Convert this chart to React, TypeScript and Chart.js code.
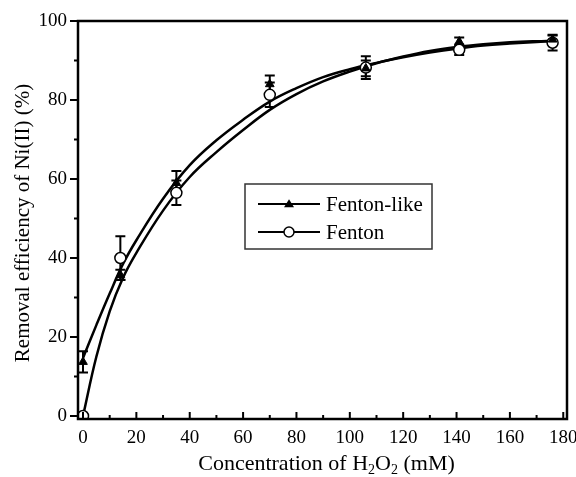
import React, { useEffect, useRef } from 'react';
import { Chart, registerables } from 'chart.js';

Chart.register(...registerables);

// H2O2 doses (mM) at which removal was measured
const doses = [0, 14, 35, 70, 106, 141, 176];

// Measured Ni(II) removal (%) with standard deviations
const fentonLike = [13.7, 35.7, 59, 84, 88, 94.8, 95.3];
const fentonLikeErr = [2.7, 1.3, 3, 2.2, 2, 1, 1];
const fenton = [0, 40, 56.5, 81.3, 88.2, 92.7, 94.5];
const fentonErr = [0, 5.5, 3.1, 3.1, 2.9, 1.3, 2];

// Fitted removal curves
const fitDoses = [0, 5, 10, 15, 20, 30, 40, 50, 60, 70, 80, 90, 100, 110, 120, 130, 140, 150, 160, 170, 176];
const fentonLikeFit = [14.7, 23, 31, 38.5, 44.5, 55, 63.5, 69.8, 75, 79.6, 83, 85.8, 87.8, 89.4, 90.8, 92, 93, 93.8, 94.3, 94.7, 94.9];
const fentonFit = [0, 15, 26.5, 35, 41.3, 52, 60.5, 66.8, 72.4, 77.5, 81.5, 84.7, 87.2, 89.3, 91, 92.4, 93.4, 94.1, 94.6, 94.9, 95];

// Axis ticks
const xMajor = [0, 20, 40, 60, 80, 100, 120, 140, 160, 180];
const xMinor = [10, 30, 50, 70, 90, 110, 130, 150, 170];
const yMajor = [0, 20, 40, 60, 80, 100];
const yMinor = [10, 30, 50, 70, 90];

const legendLabels = ['Fenton-like', 'Fenton'];

const SERIF = "'Liberation Serif', 'Times New Roman', serif";

const toPoints = (xs: number[], ys: number[]) => xs.map((x, i) => ({ x, y: ys[i] }));

function drawTriangle(ctx: CanvasRenderingContext2D, x: number, y: number, r: number) {
  const h = r * 1.6;
  ctx.beginPath();
  ctx.moveTo(x, y - h * 0.6);
  ctx.lineTo(x + r, y + h * 0.4);
  ctx.lineTo(x - r, y + h * 0.4);
  ctx.closePath();
  ctx.fillStyle = '#000';
  ctx.fill();
}

function drawCircle(ctx: CanvasRenderingContext2D, x: number, y: number, r: number) {
  ctx.beginPath();
  ctx.arc(x, y, r, 0, Math.PI * 2);
  ctx.fillStyle = '#fff';
  ctx.fill();
  ctx.lineWidth = 1.5;
  ctx.strokeStyle = '#000';
  ctx.stroke();
}

const errorBarPlugin = {
  id: 'errorBars',
  beforeDatasetsDraw(chart: any) {
    const { ctx, scales } = chart;
    const xs = scales.x;
    const ys = scales.y;
    const series = [
      { vals: fentonLike, errs: fentonLikeErr },
      { vals: fenton, errs: fentonErr },
    ];
    ctx.save();
    ctx.strokeStyle = '#000';
    ctx.lineWidth = 2;
    series.forEach(({ vals, errs }) => {
      doses.forEach((d, i) => {
        if (!errs[i]) return;
        const px = xs.getPixelForValue(d);
        const top = ys.getPixelForValue(vals[i] + errs[i]);
        const bot = ys.getPixelForValue(vals[i] - errs[i]);
        ctx.beginPath();
        ctx.moveTo(px, top);
        ctx.lineTo(px, bot);
        ctx.moveTo(px - 5, top);
        ctx.lineTo(px + 5, top);
        ctx.moveTo(px - 5, bot);
        ctx.lineTo(px + 5, bot);
        ctx.stroke();
      });
    });
    ctx.restore();
  },
};

const framePlugin = {
  id: 'frame',
  afterDraw(chart: any) {
    const { ctx, chartArea, scales } = chart;
    const { left, right, top, bottom } = chartArea;
    const xs = scales.x;
    const ys = scales.y;
    ctx.save();

    // frame
    ctx.strokeStyle = '#000';
    ctx.lineWidth = 2.5;
    ctx.strokeRect(left, top, right - left, bottom - top);

    // y ticks point outward, x ticks point inward
    ctx.lineWidth = 2;
    ctx.beginPath();
    yMajor.forEach((v) => {
      const py = ys.getPixelForValue(v);
      ctx.moveTo(left - 8, py);
      ctx.lineTo(left, py);
    });
    yMinor.forEach((v) => {
      const py = ys.getPixelForValue(v);
      ctx.moveTo(left - 4, py);
      ctx.lineTo(left, py);
    });
    xMajor.forEach((v) => {
      const px = xs.getPixelForValue(v);
      ctx.moveTo(px, bottom);
      ctx.lineTo(px, bottom - 7);
    });
    xMinor.forEach((v) => {
      const px = xs.getPixelForValue(v);
      ctx.moveTo(px, bottom);
      ctx.lineTo(px, bottom - 4);
    });
    ctx.stroke();

    ctx.fillStyle = '#000';

    // x-axis title with subscripts
    const parts = [
      { t: 'Concentration of H', sub: false },
      { t: '2', sub: true },
      { t: 'O', sub: false },
      { t: '2', sub: true },
      { t: ' (mM)', sub: false },
    ];
    const xTitleFont = `22px ${SERIF}`;
    const subFont = `14px ${SERIF}`;
    let total = 0;
    parts.forEach((p) => {
      ctx.font = p.sub ? subFont : xTitleFont;
      total += ctx.measureText(p.t).width;
    });
    let cx = (left + right) / 2 + 4 - total / 2;
    const base = 470;
    ctx.textAlign = 'left';
    ctx.textBaseline = 'alphabetic';
    parts.forEach((p) => {
      ctx.font = p.sub ? subFont : xTitleFont;
      ctx.fillText(p.t, cx, p.sub ? base + 4 : base);
      cx += ctx.measureText(p.t).width;
    });

    // y-axis title
    const mainFont = `21px ${SERIF}`;
    ctx.save();
    ctx.translate(23, (top + bottom) / 2 + 3);
    ctx.rotate(-Math.PI / 2);
    ctx.font = mainFont;
    ctx.textAlign = 'center';
    ctx.textBaseline = 'middle';
    ctx.fillText('Removal efficiency of Ni(II) (%)', 0, 0);
    ctx.restore();

    // legend
    const bx = 245;
    const by = 184;
    const bw = 187;
    const bh = 65;
    ctx.fillStyle = '#fff';
    ctx.fillRect(bx, by, bw, bh);
    ctx.strokeStyle = '#333';
    ctx.lineWidth = 1.5;
    ctx.strokeRect(bx, by, bw, bh);
    const rows = [by + 20, by + 48];
    rows.forEach((ry, i) => {
      ctx.strokeStyle = '#000';
      ctx.lineWidth = 2;
      ctx.beginPath();
      ctx.moveTo(bx + 13, ry);
      ctx.lineTo(bx + 75, ry);
      ctx.stroke();
      if (i === 0) drawTriangle(ctx, bx + 44, ry, 5);
      else drawCircle(ctx, bx + 44, ry, 5);
      ctx.fillStyle = '#000';
      ctx.font = mainFont;
      ctx.textAlign = 'left';
      ctx.textBaseline = 'middle';
      ctx.fillText(legendLabels[i], bx + 81, ry + 1);
    });

    ctx.restore();
  },
};

export default function App() {
  const canvasRef = useRef<HTMLCanvasElement | null>(null);

  useEffect(() => {
    document.body.style.margin = '0';
    const canvas = canvasRef.current;
    if (!canvas) return;

    const chart = new Chart(canvas, {
      type: 'scatter',
      data: {
        datasets: [
          {
            label: legendLabels[0],
            data: toPoints(doses, fentonLike),
            pointStyle: 'triangle',
            pointRadius: 5,
            backgroundColor: '#000',
            borderColor: '#000',
            borderWidth: 1,
            showLine: false,
            order: 0,
          },
          {
            label: legendLabels[1],
            data: toPoints(doses, fenton),
            pointStyle: 'circle',
            pointRadius: 5.5,
            backgroundColor: '#fff',
            borderColor: '#000',
            borderWidth: 1.5,
            showLine: false,
            order: 0,
          },
          {
            label: 'Fenton-like fit',
            data: toPoints(fitDoses, fentonLikeFit),
            showLine: true,
            pointRadius: 0,
            borderColor: '#000',
            borderWidth: 2.5,
            tension: 0.4,
            order: 1,
          },
          {
            label: 'Fenton fit',
            data: toPoints(fitDoses, fentonFit),
            showLine: true,
            pointRadius: 0,
            borderColor: '#000',
            borderWidth: 2.5,
            tension: 0.4,
            order: 1,
          },
        ],
      },
      options: {
        responsive: false,
        animation: false,
        events: [],
        layout: { padding: { left: 0, top: 21, right: 9, bottom: 0 } },
        plugins: {
          legend: { display: false },
          tooltip: { enabled: false },
        },
        scales: {
          x: {
            type: 'linear',
            min: -1.875,
            max: 181.4,
            afterBuildTicks: (s: any) => {
              s.ticks = xMajor.map((v) => ({ value: v }));
            },
            afterFit: (s: any) => {
              s.height = 58;
              s.paddingLeft = 0;
              s.paddingRight = 0;
            },
            grid: { display: false, drawTicks: false },
            border: { display: false },
            ticks: {
              padding: 8,
              color: '#000',
              maxRotation: 0,
              autoSkip: false,
              font: { family: SERIF, size: 19 },
            },
          },
          y: {
            type: 'linear',
            min: -0.76,
            max: 100,
            afterBuildTicks: (s: any) => {
              s.ticks = yMajor.map((v) => ({ value: v }));
            },
            afterFit: (s: any) => {
              s.width = 78;
              s.paddingTop = 0;
              s.paddingBottom = 0;
            },
            grid: { display: false, drawTicks: false },
            border: { display: false },
            ticks: {
              padding: 11,
              color: '#000',
              autoSkip: false,
              font: { family: SERIF, size: 19 },
            },
          },
        },
      },
      plugins: [errorBarPlugin, framePlugin],
    });

    return () => chart.destroy();
  }, []);

  return (
    <div style={{ width: 576, height: 477, background: '#fff' }}>
      <canvas ref={canvasRef} width={576} height={477} style={{ display: 'block' }} />
    </div>
  );
}
